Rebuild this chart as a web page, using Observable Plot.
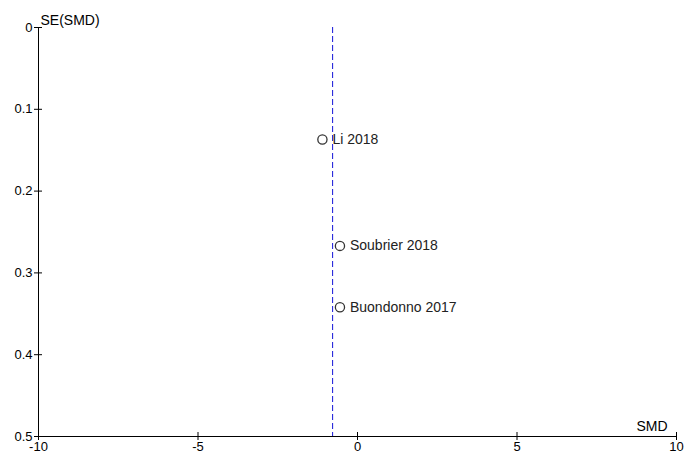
<!DOCTYPE html>
<html>
<head>
<meta charset="utf-8">
<script src="https://cdn.jsdelivr.net/npm/d3@7"></script>
<script src="https://cdn.jsdelivr.net/npm/@observablehq/plot@0.6"></script>
<style>
  html, body { margin: 0; padding: 0; background: #fff; overflow: hidden; }
</style>
</head>
<body>
<div id="chart"></div>
<script>
const studies = ["Li 2018", "Soubrier 2018", "Buondonno 2017"];
const smd = [-1.1, -0.55, -0.55];
const seSmd = [0.137, 0.267, 0.342];
const pooledSmd = -0.78;
const xTicks = [-10, -5, 0, 5, 10];
const yTicks = [0, 0.1, 0.2, 0.3, 0.4, 0.5];

const data = studies.map((s, i) => ({study: s, smd: smd[i], se: seSmd[i]}));

const chart = Plot.plot({
  width: 686,
  height: 451,
  marginLeft: 38,
  marginRight: 10,
  marginTop: 27,
  marginBottom: 15,
  style: {fontFamily: "'Liberation Sans', Arial, sans-serif", fontSize: "13px", background: "#fff", overflow: "visible"},
  x: {domain: [-10, 10], axis: null},
  y: {domain: [0.5, 0], axis: null},
  marks: [
    Plot.ruleX([pooledSmd], {stroke: "#1414d8", strokeWidth: 1, strokeDasharray: "6,3"}),
    Plot.ruleX([-10], {stroke: "#000", strokeWidth: 1}),
    Plot.ruleY([0.5], {stroke: "#000", strokeWidth: 1}),
    Plot.axisX({ticks: xTicks, tickSize: 8, dy: -4, tickPadding: 1, tickFormat: d => String(d), stroke: "#000", color: "#000", label: null, fontSize: 13}),
    Plot.axisY({ticks: yTicks, tickSize: 8, dx: 4, tickPadding: 2, tickFormat: d => String(d), stroke: "#000", color: "#000", label: null, fontSize: 13}),
    Plot.dot(data, {x: "smd", y: "se", r: 4.6, stroke: "#333", strokeWidth: 1.3, fill: "none"}),
    Plot.text(data, {x: "smd", y: "se", text: "study", dx: 10, textAnchor: "start", fill: "#222", fontSize: 14}),
    Plot.text(["SE(SMD)"], {frameAnchor: "top-left", text: d => d, dx: 2, dy: -3, lineAnchor: "bottom", textAnchor: "start", fill: "#000", fontSize: 14}),
    Plot.text(["SMD"], {frameAnchor: "bottom-right", text: d => d, dx: -9, dy: -6, lineAnchor: "bottom", textAnchor: "end", fill: "#000", fontSize: 14})
  ]
});
document.getElementById("chart").appendChild(chart);
</script>
</body>
</html>
